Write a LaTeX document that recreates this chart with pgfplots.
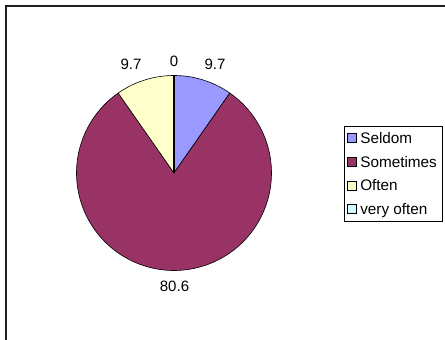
\documentclass[border=0pt]{standalone}
\usepackage{fontspec}
\setmainfont{Liberation Sans}
\usepackage{pgfplots}
\pgfplotsset{compat=1.18}
\usepackage{pgfplotstable}

\definecolor{cSeldom}{HTML}{9999FF}
\definecolor{cSometimes}{HTML}{993366}
\definecolor{cOften}{HTML}{FFFFCC}
\definecolor{cVery}{HTML}{CCFFFF}

% data (percent)
\def\vA{9.7}   % Seldom
\def\vB{80.6}  % Sometimes
\def\vC{9.7}   % Often
\def\vD{0}     % very often
\pgfmathsetmacro\aA{90}
\pgfmathsetmacro\aB{\aA-3.6*\vA}
\pgfmathsetmacro\aC{\aB-3.6*\vB}
\pgfmathsetmacro\aD{\aC-3.6*\vC}
\def\cx{174}\def\cy{173}\def\rr{97.5}

\begin{document}
\begin{tikzpicture}
\begin{axis}[at={(0,0)}, anchor=south west, scale only axis,
  width=445pt, height=340pt,
  xmin=0, xmax=445, ymin=0, ymax=340, y dir=reverse,
  hide axis, clip=false,
  legend cell align=left,
  legend image code/.code={\draw[#1, draw=black, line width=0.5pt] (0pt,-4.5pt) rectangle (9pt,4.5pt);},
  legend style={at={(axis cs:344,173.5)}, anchor=west, draw=black, line width=0.6pt,
    font=\fontsize{15.3}{18}\selectfont, inner xsep=3pt, inner ysep=4.5pt,
    row sep=8.7pt, column sep=1pt,
    nodes={text height=11pt, text depth=0pt, inner xsep=2.5pt, inner ysep=2pt}},
]
\draw[line width=1.1pt, color=black!88] (axis cs:6,6) rectangle (axis cs:470,370);

\addplot[fill=cSeldom, draw=black, line width=0.6pt, domain=\aB:\aA, samples=30, forget plot]
  ({\cx+\rr*cos(x)},{\cy-\rr*sin(x)}) -- (axis cs:\cx,\cy) -- cycle;
\addplot[fill=cSometimes, draw=black, line width=0.6pt, domain=\aC:\aB, samples=150, forget plot]
  ({\cx+\rr*cos(x)},{\cy-\rr*sin(x)}) -- (axis cs:\cx,\cy) -- cycle;
\addplot[fill=cOften, draw=black, line width=0.6pt, domain=\aD:\aC, samples=30, forget plot]
  ({\cx+\rr*cos(x)},{\cy-\rr*sin(x)}) -- (axis cs:\cx,\cy) -- cycle;
% zero-size slice (very often) along the top radius
\addplot[draw=black, line width=1.3pt, forget plot] coordinates {(\cx,\cy) (\cx,{\cy-\rr})};

\addlegendimage{fill=cSeldom}\addlegendentry{Seldom}
\addlegendimage{fill=cSometimes}\addlegendentry{Sometimes}
\addlegendimage{fill=cOften}\addlegendentry{Often}
\addlegendimage{fill=cVery}\addlegendentry{very often}

\begin{scope}[font=\fontsize{15}{18}\selectfont]
\node at (axis cs:215,64.7) {\vA};
\node at (axis cs:174.5,286.7) {\vB};
\node at (axis cs:131,64.7) {\vC};
\node at (axis cs:174,61) {\vD};
\end{scope}
\end{axis}
\pgfresetboundingbox
\useasboundingbox (0,0) rectangle (445pt,340pt);
\end{tikzpicture}
\end{document}
